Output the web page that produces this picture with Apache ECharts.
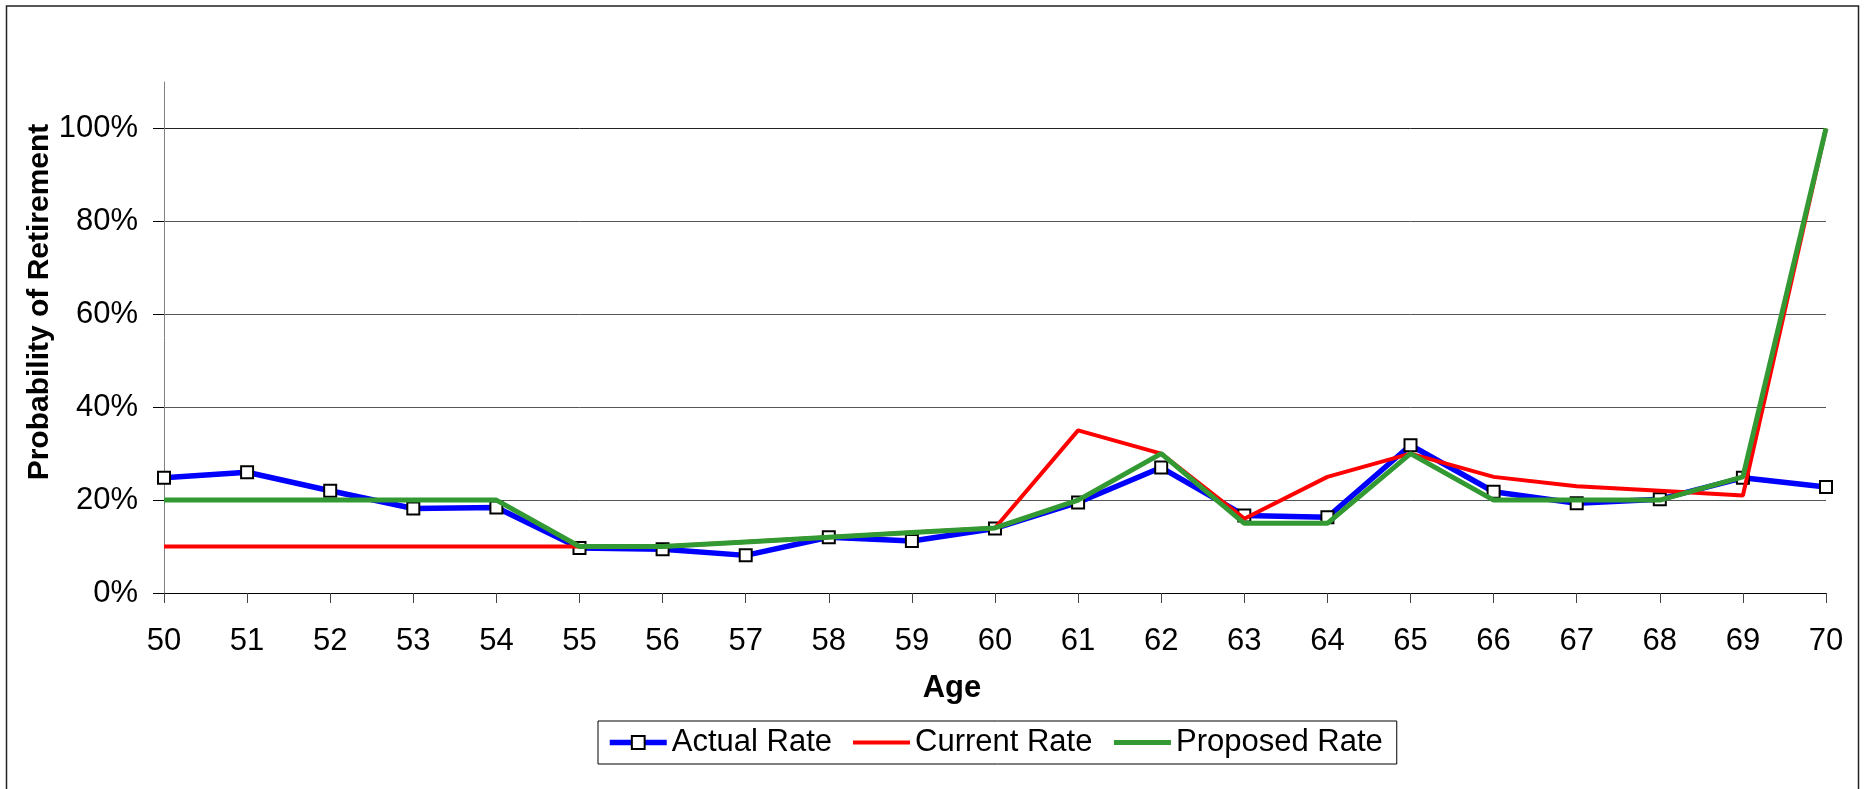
<!DOCTYPE html>
<html>
<head>
<meta charset="utf-8">
<title>Probability of Retirement</title>
<script src="https://cdn.jsdelivr.net/npm/echarts@6/dist/echarts.min.js"></script>
<style>
    html, body { margin: 0; padding: 0; background: #fff; }
    #myChart { width: 1866px; height: 789px; }
</style>
</head>
<body>
<div id="myChart"></div>
<script>
// ages on the x axis
var ages = ['50','51','52','53','54','55','56','57','58','59','60',
            '61','62','63','64','65','66','67','68','69','70'];
// probability of retirement by age
var actualRate = [0.248, 0.26, 0.22, 0.182, 0.184, 0.097, 0.094, 0.081, 0.12, 0.112, 0.139,
                  0.195, 0.27, 0.167, 0.163, 0.318, 0.218, 0.193, 0.202, 0.248, 0.228];
var currentRate = [0.10, 0.10, 0.10, 0.10, 0.10, 0.10, 0.10, 0.11, 0.12, 0.13, 0.14,
                   0.35, 0.30, 0.16, 0.25, 0.30, 0.25, 0.23, 0.22, 0.21, 1.00];
var proposedRate = [0.20, 0.20, 0.20, 0.20, 0.20, 0.10, 0.10, 0.11, 0.12, 0.13, 0.14,
                    0.20, 0.30, 0.15, 0.15, 0.30, 0.20, 0.20, 0.20, 0.25, 1.00];
// y ticks that get a label and a tick mark
var yTicks = [0, 0.2, 0.4, 0.6, 0.8, 1.0];

var font = "'Liberation Sans', Arial, sans-serif";
var grid = '#555';

var myChart = echarts.init(document.getElementById('myChart'));
myChart.setOption({
    animation: false,
    backgroundColor: '#fff',
    textStyle: { fontFamily: font },
    graphic: [
        {   // outer frame
            type: 'rect',
            shape: { x: 6.5, y: 6, width: 1852, height: 800 },
            style: { fill: 'none', stroke: '#222', lineWidth: 1.5 },
            silent: true
        },
        {
            type: 'text',
            x: 40, y: 302,
            rotation: Math.PI / 2,
            style: {
                text: 'Probability of Retirement',
                font: 'bold 30px ' + font,
                fill: '#000',
                align: 'center',
                verticalAlign: 'middle'
            }
        },
        {
            type: 'text',
            x: 952, y: 688,
            style: {
                text: 'Age',
                font: 'bold 31px ' + font,
                fill: '#000',
                align: 'center',
                verticalAlign: 'middle'
            }
        }
    ],
    legend: {
        left: 598,
        top: 721,
        padding: [6, 14, 6, 9],
        itemGap: 19,
        itemWidth: 57,
        itemHeight: 16,
        borderColor: '#000',
        borderWidth: 1,
        lineStyle: { width: 'inherit' },
        textStyle: { fontSize: 31, color: '#000', fontFamily: font },
        data: [
            { name: 'Actual Rate' },
            // plain line in the legend, no dot
            { name: 'Current Rate', itemStyle: { opacity: 0 } },
            { name: 'Proposed Rate', itemStyle: { opacity: 0 } }
        ]
    },
    grid: {
        left: 164,
        right: 40,
        top: 82,
        bottom: 196
    },
    xAxis: {
        type: 'category',
        boundaryGap: false,
        data: ages,
        axisLine: { lineStyle: { color: '#000', width: 1 } },
        axisTick: { alignWithLabel: true, length: 10, lineStyle: { color: '#444' } },
        axisLabel: { fontSize: 31, color: '#000', margin: 33, interval: 0 }
    },
    yAxis: {
        type: 'value',
        min: 0,
        max: 1.1,
        interval: 0.2,
        axisLine: { show: true, lineStyle: { color: '#808080', width: 1 } },
        axisTick: { show: true, inside: false, length: 11, customValues: yTicks, lineStyle: { color: '#000' } },
        axisLabel: {
            fontSize: 31,
            color: '#000',
            margin: 26,
            customValues: yTicks,
            formatter: function (v) { return Math.round(v * 100) + '%'; }
        },
        splitLine: {
            show: true,
            lineStyle: { color: [grid, grid, grid, grid, grid, '#222', 'rgba(0,0,0,0)'], width: 1 }
        }
    },
    series: [
        {
            name: 'Actual Rate',
            type: 'line',
            data: actualRate,
            symbol: 'rect',
            symbolSize: 12,
            lineStyle: { color: '#0000ff', width: 5.5 },
            itemStyle: { color: '#ffffff', borderColor: '#000', borderWidth: 2 },
            z: 2
        },
        {
            name: 'Current Rate',
            type: 'line',
            data: currentRate,
            symbol: 'none',
            lineStyle: { color: '#ff0000', width: 4 },
            itemStyle: { color: '#ff0000' },
            z: 3
        },
        {
            name: 'Proposed Rate',
            type: 'line',
            data: proposedRate,
            symbol: 'none',
            lineStyle: { color: '#339933', width: 5 },
            itemStyle: { color: '#339933' },
            z: 4
        }
    ]
});
</script>
</body>
</html>
